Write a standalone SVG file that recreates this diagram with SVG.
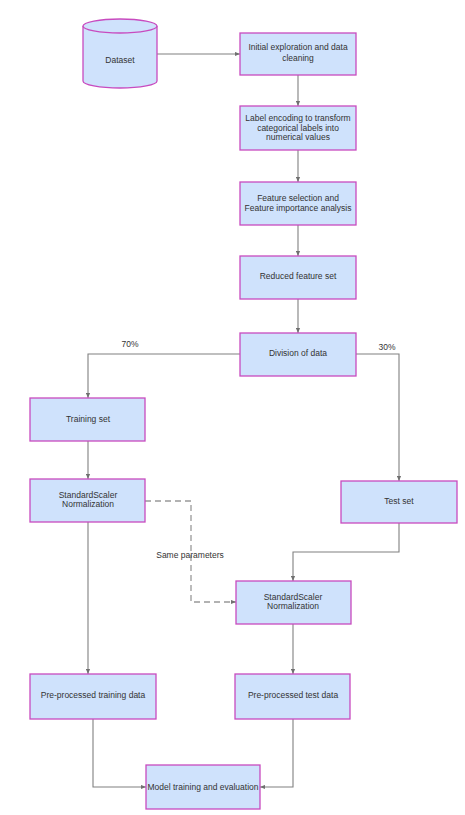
<svg xmlns="http://www.w3.org/2000/svg" width="465" height="815" viewBox="0 0 465 815">
<style>
.n{fill:#cfe2fc;stroke:#c84bbf;stroke-width:1.3}
.t{font-family:"Liberation Sans",Arial,sans-serif;font-size:8.5px;fill:#333;text-anchor:middle}
.c{fill:none;stroke:#808080;stroke-width:1.1}
.d{fill:none;stroke:#999;stroke-width:1.3;stroke-dasharray:6,4}
</style>
<defs>
<marker id="a" viewBox="0 0 6 6" refX="6" refY="3" markerWidth="5" markerHeight="5" orient="auto" markerUnits="userSpaceOnUse">
<path d="M0,0.5 L6,3 L0,5.5 z" fill="#707070"/>
</marker>
</defs>
<rect width="465" height="815" fill="#fff"/>
<g id="connectors">
<path class="c" d="M157,54 H240" marker-end="url(#a)"/>
<path class="c" d="M298,75 V106" marker-end="url(#a)"/>
<path class="c" d="M298,150 V182" marker-end="url(#a)"/>
<path class="c" d="M298,225 V256" marker-end="url(#a)"/>
<path class="c" d="M298,299 V333" marker-end="url(#a)"/>
<path class="c" d="M240,354 H88 V398" marker-end="url(#a)"/>
<path class="c" d="M356,354 H399 V481" marker-end="url(#a)"/>
<path class="c" d="M88,441 V479" marker-end="url(#a)"/>
<path class="d" d="M145,501 H191 V602 H236" marker-end="url(#a)"/>
<path class="c" d="M399,523 V552 H293 V581" marker-end="url(#a)"/>
<path class="c" d="M88,522 V674" marker-end="url(#a)"/>
<path class="c" d="M293,624 V674" marker-end="url(#a)"/>
<path class="c" d="M93,719 V787 H146" marker-end="url(#a)"/>
<path class="c" d="M293,719 V787 H260" marker-end="url(#a)"/>
<text class="t" x="130" y="347">70%</text>
<text class="t" x="387" y="350">30%</text>
<text class="t" x="190" y="558">Same parameters</text>
</g>
<g id="dataset">
<path class="n" d="M83,26 V81 A37,7 0 0 0 157,81 V26"/>
<ellipse class="n" cx="120" cy="26" rx="37" ry="7"/>
<text class="t" x="120" y="63">Dataset</text>
</g>
<g id="explore">
<rect class="n" x="240" y="33" width="116" height="42"/>
<text class="t" x="298" y="50">Initial exploration and data</text>
<text class="t" x="298" y="61">cleaning</text>
</g>
<g id="encode">
<rect class="n" x="240" y="106" width="116" height="44"/>
<text class="t" x="298" y="121">Label encoding to transform</text>
<text class="t" x="298" y="131">categorical labels into</text>
<text class="t" x="298" y="140">numerical values</text>
</g>
<g id="featsel">
<rect class="n" x="240" y="182" width="116" height="43"/>
<text class="t" x="298" y="201">Feature selection and</text>
<text class="t" x="298" y="211">Feature importance analysis</text>
</g>
<g id="reduced">
<rect class="n" x="240" y="256" width="116" height="43"/>
<text class="t" x="298" y="279">Reduced feature set</text>
</g>
<g id="division">
<rect class="n" x="240" y="333" width="116" height="43"/>
<text class="t" x="298" y="356">Division of data</text>
</g>
<g id="training">
<rect class="n" x="30" y="398" width="115" height="43"/>
<text class="t" x="88" y="422">Training set</text>
</g>
<g id="scaler1">
<rect class="n" x="30" y="479" width="115" height="43"/>
<text class="t" x="88" y="498">StandardScaler</text>
<text class="t" x="88" y="507">Normalization</text>
</g>
<g id="testset">
<rect class="n" x="341" y="481" width="116" height="42"/>
<text class="t" x="399" y="504">Test set</text>
</g>
<g id="scaler2">
<rect class="n" x="236" y="581" width="115" height="43"/>
<text class="t" x="293" y="600">StandardScaler</text>
<text class="t" x="293" y="609">Normalization</text>
</g>
<g id="pretrain">
<rect class="n" x="30" y="674" width="126" height="45"/>
<text class="t" x="93" y="698">Pre-processed training data</text>
</g>
<g id="pretest">
<rect class="n" x="235" y="674" width="115" height="45"/>
<text class="t" x="293" y="698">Pre-processed test data</text>
</g>
<g id="model">
<rect class="n" x="146" y="765" width="114" height="44"/>
<text class="t" x="203" y="790">Model training and evaluation</text>
</g>
</svg>
